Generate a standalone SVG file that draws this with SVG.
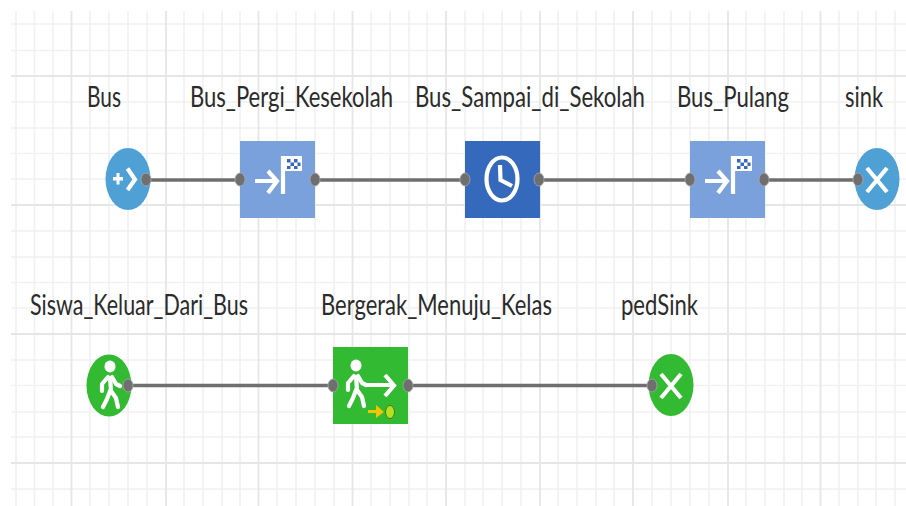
<svg xmlns="http://www.w3.org/2000/svg" width="906" height="506" viewBox="0 0 906 506">
<style>
.minor{stroke:#f1f1f1;stroke-width:1.6;fill:none}
.major{stroke:#e6e6e6;stroke-width:1.8;fill:none}
.lbl{font-family:"Lato","Liberation Sans",sans-serif;font-size:21px;fill:#2b2b2b}
.wire{stroke:#6f6f6f;stroke-width:3.6;fill:none}
.port{fill:#6f6f6f;stroke:#a8a8a8;stroke-width:.8}
.ic{stroke:#fff;stroke-width:4.2;fill:none}
.icf{fill:#fff}
.bus{fill:#4fa1d5}
.mov{fill:#7aa1dc}
.dly{fill:#3569bb}
.ped{fill:#32bb32}
</style>
<defs>
<g id="moveIcon">
<path class="ic" d="M-25 1H-5M-12-9L-3 1L-12 13"/>
<path class="ic" stroke-width="4" d="M3 14V-24"/>
<rect class="icf" x="3" y="-24" width="19" height="15"/>
<path fill="#3569bb" d="M7-21h3.500v3.500h-3.500zM14-21h3.500v3.500h-3.500zM10.500-17.500h3.500v3.500h-3.500zM17.500-17.500h3v3.500h-3zM7-14h3.500v3h-3.500zM14-14h3.500v3h-3.500z"/>
</g>
<g id="walker">
<ellipse class="icf" cx="0" cy="-20.500" rx="5.500" ry="6"/>
<path class="ic" stroke-width="6" d="M0-10L1 4"/>
<path class="ic" stroke-linecap="round" stroke-linejoin="round" stroke-width="3.600" d="M-2-10L-8-3V4M2-10L6-3L10-1M0 4L-3 12L-7 20M1 4L6 11L8 20"/>
</g>
<g id="cross"><path class="ic" stroke-width="4.600" d="M-10-12L10 12M10-12L-10 12"/></g>
</defs>
<rect width="906" height="506" fill="#fff"/>
<g id="grid">
<path class="minor" d="M16 11V506M34.500 11V506M53 11V506M90 11V506M109 11V506M128 11V506M147 11V506M184 11V506M203 11V506M222 11V506M240 11V506M277 11V506M296 11V506M315 11V506M334 11V506M371 11V506M390 11V506M409 11V506M427 11V506M465 11V506M483 11V506M502 11V506M521 11V506M558 11V506M577 11V506M596 11V506M614 11V506M652 11V506M671 11V506M690 11V506M709 11V506M746 11V506M765 11V506M784 11V506M802 11V506M839 11V506M858 11V506M876 11V506M895 11V506"/>
<path class="minor" d="M11 24H906M11 50.500H906M11 102H906M11 128H906M11 153.500H906M11 179H906M11 231H906M11 257H906M11 282.500H906M11 308H906M11 360H906M11 385.500H906M11 412H906M11 437H906M11 489H906"/>
<path class="major" d="M71.500 11V506M166 11V506M258.500 11V506M352.500 11V506M446 11V506M540 11V506M633 11V506M728 11V506M820.500 11V506"/>
<path class="major" d="M11 76H906M11 205H906M11 334H906M11 463H906"/>
</g>
<g id="connectors">
<path class="wire" d="M146 180H240M315 180H465M539 180H690M764 180H858M128 385.500H333M408 385.500H652"/>
</g>
<g id="node-bus">
<ellipse class="bus" cx="128" cy="179" rx="22.500" ry="31"/>
<path class="icf" d="M113 177h3.500v-4h3v4h3.500v3.400h-3.500v4h-3v-4h-3.500z"/>
<path class="ic" d="M127.500 168.500L135 179.500L127.500 190"/>
<ellipse class="port" cx="146" cy="179.500" rx="5" ry="6.500"/>
<text class="lbl" transform="translate(87 107) scale(1 1.35)" textLength="34" lengthAdjust="spacingAndGlyphs">Bus</text>
</g>
<g id="node-bus-pergi">
<rect class="mov" x="240" y="141" width="75" height="77"/>
<use href="#moveIcon" x="280" y="180"/>
<ellipse class="port" cx="240" cy="179.500" rx="5" ry="6.500"/>
<ellipse class="port" cx="315" cy="179.500" rx="5" ry="6.500"/>
<text class="lbl" transform="translate(190 107) scale(1 1.35)" textLength="203" lengthAdjust="spacingAndGlyphs">Bus_Pergi_Kesekolah</text>
</g>
<g id="node-bus-sampai">
<rect class="dly" x="465" y="141" width="75" height="77"/>
<ellipse class="ic" cx="502" cy="179" rx="15.500" ry="21.500"/>
<path class="ic" d="M500 165L500.500 180L512 186"/>
<ellipse class="port" cx="465" cy="179.500" rx="5" ry="6.500"/>
<ellipse class="port" cx="539" cy="179.500" rx="5" ry="6.500"/>
<text class="lbl" transform="translate(415 107) scale(1 1.35)" textLength="230" lengthAdjust="spacingAndGlyphs">Bus_Sampai_di_Sekolah</text>
</g>
<g id="node-bus-pulang">
<rect class="mov" x="690" y="141" width="75" height="77"/>
<use href="#moveIcon" x="730" y="180"/>
<ellipse class="port" cx="690" cy="179.500" rx="5" ry="6.500"/>
<ellipse class="port" cx="764" cy="179.500" rx="5" ry="6.500"/>
<text class="lbl" transform="translate(677 107) scale(1 1.35)" textLength="112" lengthAdjust="spacingAndGlyphs">Bus_Pulang</text>
</g>
<g id="node-sink">
<ellipse class="bus" cx="877" cy="179" rx="22.500" ry="31"/>
<use href="#cross" x="877" y="180"/>
<ellipse class="port" cx="858" cy="179.500" rx="5" ry="6.500"/>
<text class="lbl" transform="translate(845 107) scale(1 1.35)" textLength="38" lengthAdjust="spacingAndGlyphs">sink</text>
</g>
<g id="node-siswa">
<ellipse class="ped" cx="109" cy="385.500" rx="22.500" ry="31"/>
<use href="#walker" x="110" y="387"/>
<ellipse class="port" cx="128" cy="385.500" rx="5" ry="6.500"/>
<text class="lbl" transform="translate(30 315) scale(1 1.35)" textLength="218" lengthAdjust="spacingAndGlyphs">Siswa_Keluar_Dari_Bus</text>
</g>
<g id="node-bergerak">
<rect class="ped" x="333" y="347" width="75" height="77"/>
<use href="#walker" x="356" y="386"/>
<path class="ic" d="M366 385H392M385 375L394 385.500L385 396"/>
<path fill="#f5c400" d="M368 410h8v-5l8 7-8 6v-5h-8z"/>
<ellipse fill="#b4e01e" stroke="#3f7a1a" cx="390" cy="412" rx="4.500" ry="6.500"/>
<ellipse class="port" cx="333" cy="385.500" rx="5" ry="6.500"/>
<ellipse class="port" cx="408" cy="385.500" rx="5" ry="6.500"/>
<text class="lbl" transform="translate(321 315) scale(1 1.35)" textLength="231" lengthAdjust="spacingAndGlyphs">Bergerak_Menuju_Kelas</text>
</g>
<g id="node-pedsink">
<ellipse class="ped" cx="671" cy="385" rx="22.500" ry="31"/>
<use href="#cross" x="671" y="386"/>
<ellipse class="port" cx="652" cy="385.500" rx="5" ry="6.500"/>
<text class="lbl" transform="translate(621 315) scale(1 1.35)" textLength="77" lengthAdjust="spacingAndGlyphs">pedSink</text>
</g>
</svg>
